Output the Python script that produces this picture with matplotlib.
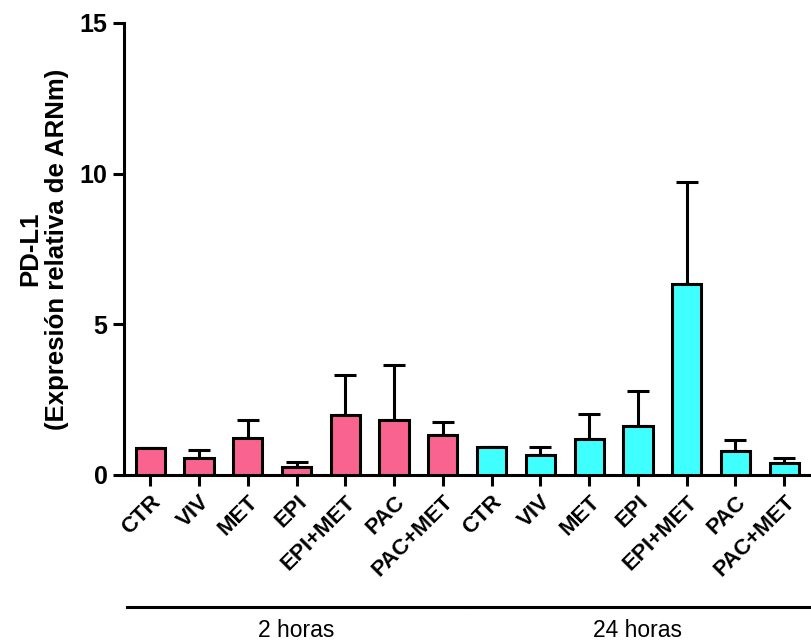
import matplotlib
matplotlib.use("Agg")
import matplotlib.pyplot as plt
import numpy as np

plt.rcParams['font.family'] = ['Liberation Sans', 'DejaVu Sans']

categories = ["CTR", "VIV", "MET", "EPI", "EPI+MET", "PAC", "PAC+MET"]
groups = ["2 horas", "24 horas"]
means_2h = [0.91, 0.57, 1.23, 0.27, 1.98, 1.83, 1.33]
upper_2h = [0.91, 0.83, 1.83, 0.42, 3.31, 3.64, 1.76]
means_24h = [0.92, 0.66, 1.19, 1.64, 6.34, 0.81, 0.41]
upper_24h = [0.92, 0.94, 2.03, 2.78, 9.71, 1.16, 0.55]
colors = ["#F8648F", "#40FFFF"]
yticks = [0, 5, 10, 15]

W, H = 811, 641
fig = plt.figure(figsize=(W / 100, H / 100), dpi=100)
ax = fig.add_axes([123.5 / W, 1 - 475 / H, (W - 123.5) / W, (475 - 23) / H])

n = len(categories)
lw = 2.2
for g, (means, upper) in enumerate([(means_2h, upper_2h), (means_24h, upper_24h)]):
    x = np.arange(n) + g * n
    means = np.array(means)
    err = np.array(upper) - means
    ax.bar(x, means, width=0.6, color=colors[g], edgecolor="black", linewidth=lw, zorder=3)
    ax.errorbar(x, means, yerr=[np.zeros(n), err], fmt="none", ecolor="black",
                elinewidth=lw, capsize=8, capthick=lw, zorder=2)

ax.set_xlim(-0.55, 2 * n - 0.45)
ax.set_ylim(0, 15)
ax.set_yticks(yticks)
ax.set_yticklabels([str(t) for t in yticks], fontsize=18, fontweight="bold")
ax.set_xticks(np.arange(2 * n))
ax.set_xticklabels(categories * 2, rotation=45, ha="right", rotation_mode="anchor",
                   fontsize=16, fontweight="bold")
ax.tick_params(axis="both", width=lw, length=8, direction="out")
ax.tick_params(axis="x", pad=4)
for s in ["top", "right"]:
    ax.spines[s].set_visible(False)
for s in ["left", "bottom"]:
    ax.spines[s].set_linewidth(lw)

trans = ax.get_xaxis_transform()
for g, name in enumerate(groups):
    x0 = g * n - 0.48
    x1 = g * n + n - 0.53 if g == 0 else g * n + n - 0.45
    ax.plot([x0, x1], [-0.292, -0.292], color="black", lw=lw, transform=trans, clip_on=False)
    ax.text(g * n + (n - 1) / 2, -0.345, name, transform=trans, ha="center", va="center",
            fontsize=16.5)

fig.text(44 / W, 1 - 249 / H, "PD-L1\n(Expresión relativa de ARNm)", rotation=90,
         ha="center", va="center", multialignment="center", fontsize=18.5,
         fontweight="bold", linespacing=1.15)

fig.savefig("out.png", dpi=100)
